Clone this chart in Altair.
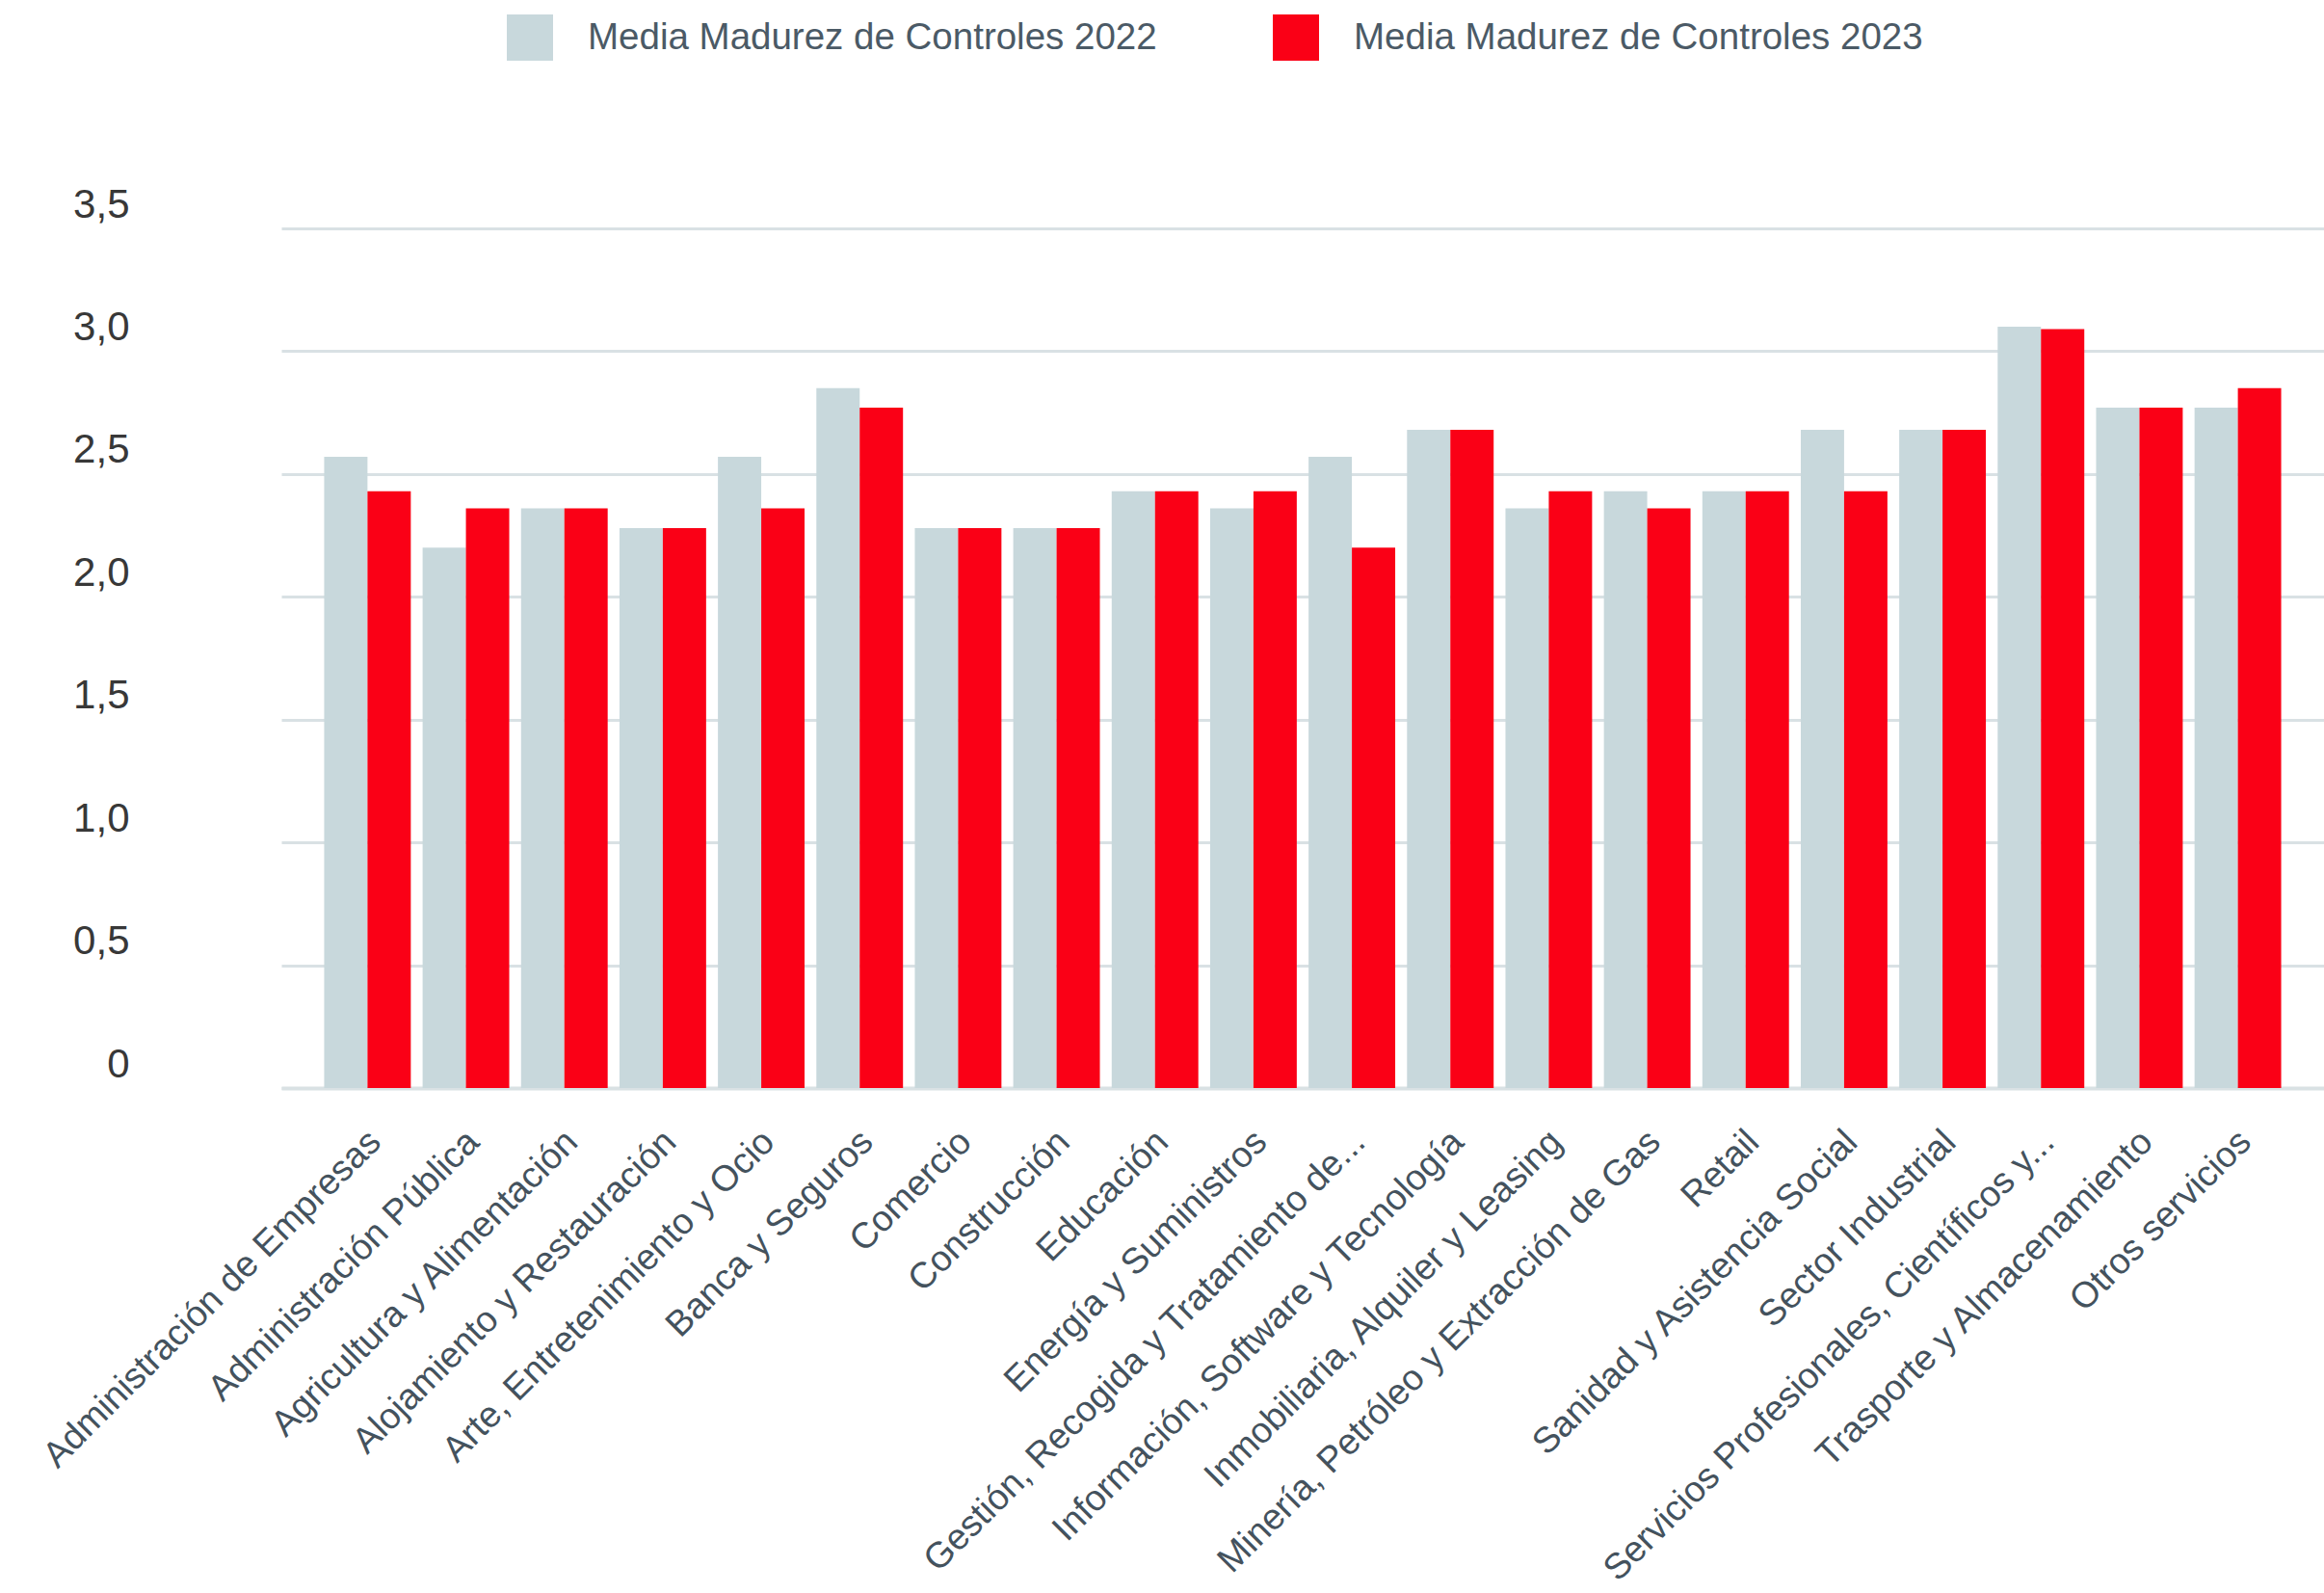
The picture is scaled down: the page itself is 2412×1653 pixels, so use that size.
import altair as alt
import pandas as pd

categories = [
    "Administración de Empresas", "Administración Pública", "Agricultura y Alimentación",
    "Alojamiento y Restauración", "Arte, Entretenimiento y Ocio", "Banca y Seguros",
    "Comercio", "Construcción", "Educación", "Energía y Suministros",
    "Gestión, Recogida y Tratamiento de...", "Información, Software y Tecnología",
    "Inmobiliaria, Alquiler y Leasing", "Minería, Petróleo y Extracción de Gas",
    "Retail", "Sanidad y Asistencia Social", "Sector Industrial",
    "Servicios Profesionales, Científicos y...", "Trasporte y Almacenamiento",
    "Otros servicios",
]
v2022 = [2.57, 2.20, 2.36, 2.28, 2.57, 2.85, 2.28, 2.28, 2.43, 2.36,
         2.57, 2.68, 2.36, 2.43, 2.43, 2.68, 2.68, 3.10, 2.77, 2.77]
v2023 = [2.43, 2.36, 2.36, 2.28, 2.36, 2.77, 2.28, 2.28, 2.43, 2.43,
         2.20, 2.68, 2.43, 2.36, 2.43, 2.43, 2.68, 3.09, 2.77, 2.85]
series = ["Media Madurez de Controles 2022", "Media Madurez de Controles 2023"]
colors = ["#c8d8dc", "#fa0016"]
y_ticks = [0, 0.5, 1.0, 1.5, 2.0, 2.5, 3.0, 3.5]

rows = []
for c, a, b in zip(categories, v2022, v2023):
    rows.append({"sector": c, "serie": series[0], "valor": a})
    rows.append({"sector": c, "serie": series[1], "valor": b})
df = pd.DataFrame(rows)

FONT = "Liberation Sans"

chart = alt.Chart(df).mark_bar().encode(
    x=alt.X("sector:N", sort=categories, title=None,
            scale=alt.Scale(paddingInner=0.12, paddingOuter=0.435),
            axis=alt.Axis(labelAngle=315, labelAlign="right", labelBaseline="middle",
                          labelFontSize=37.5, labelColor="#44525d", labelFont=FONT,
                          labelPadding=50, labelOffset=8, labelLimit=1000, labelOverlap=False,
                          ticks=False, domainColor="#d9e1e4", domainWidth=4)),
    xOffset=alt.XOffset("serie:N", sort=series, scale=alt.Scale(paddingInner=0, paddingOuter=0)),
    y=alt.Y("valor:Q", title=None, scale=alt.Scale(domain=[0, 3.5], nice=False),
            axis=alt.Axis(values=y_ticks, domain=False, ticks=False,
                          labelExpr="datum.value == 0 ? '0' : replace(format(datum.value, '.1f'), '.', ',')",
                          labelFontSize=42, labelColor="#383838", labelFont=FONT,
                          labelPadding=158, labelOffset=-25,
                          gridColor="#d9e1e4", gridWidth=3)),
    color=alt.Color("serie:N", sort=series,
                    scale=alt.Scale(domain=series, range=colors),
                    legend=alt.Legend(title=None, orient="none", direction="horizontal",
                                      legendX=234, legendY=-222,
                                      symbolType="square", symbolSize=2304,
                                      symbolStrokeWidth=0, symbolOpacity=1,
                                      labelFontSize=38.5, labelColor="#4b5a66", labelFont=FONT,
                                      labelLimit=1000,
                                      labelOffset=36, columnPadding=120)),
).properties(
    width=2120, height=892,
    autosize=alt.AutoSizeParams(type="none"),
    padding={"left": 292, "top": 237, "right": 0, "bottom": 524},
).configure(background="white").configure_view(stroke=None)

chart.save("out.html", embed_options={"renderer": "svg", "actions": False})
